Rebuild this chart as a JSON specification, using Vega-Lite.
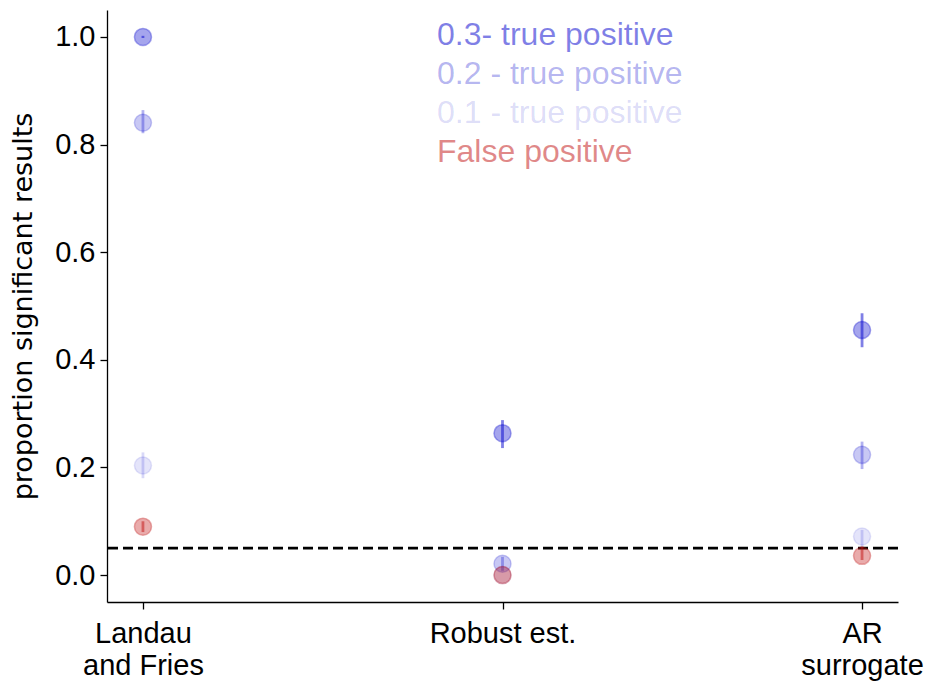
{
  "$schema": "https://vega.github.io/schema/vega-lite/v6.json",
  "width": 791,
  "height": 592,
  "autosize": {"type": "none"},
  "padding": {"left": 107, "top": 10, "right": 27, "bottom": 82},
  "background": "white",
  "config": {
    "view": {"stroke": null},
    "axis": {"grid": false, "domainColor": "black", "tickColor": "black", "labelColor": "black", "titleColor": "black", "domainWidth": 1.3, "tickWidth": 1.3, "tickSize": 7}
  },
  "data": {
    "values": [
      {"method": "Landau and Fries", "series": "0.3- true positive", "p": 1.0, "lo": 0.998, "hi": 1.002},
      {"method": "Landau and Fries", "series": "0.2 - true positive", "p": 0.8405, "lo": 0.821, "hi": 0.864},
      {"method": "Landau and Fries", "series": "0.1 - true positive", "p": 0.2035, "lo": 0.180, "hi": 0.228},
      {"method": "Landau and Fries", "series": "False positive", "p": 0.090, "lo": 0.080, "hi": 0.100},
      {"method": "Robust est.", "series": "0.3- true positive", "p": 0.2637, "lo": 0.236, "hi": 0.288},
      {"method": "Robust est.", "series": "0.2 - true positive", "p": 0.021, "lo": 0.008, "hi": 0.034},
      {"method": "Robust est.", "series": "0.1 - true positive", "p": 0.0, "lo": 0.0, "hi": 0.0},
      {"method": "Robust est.", "series": "False positive", "p": 0.0, "lo": 0.0, "hi": 0.0},
      {"method": "AR surrogate", "series": "0.3- true positive", "p": 0.4555, "lo": 0.4234, "hi": 0.4865},
      {"method": "AR surrogate", "series": "0.2 - true positive", "p": 0.2234, "lo": 0.197, "hi": 0.248},
      {"method": "AR surrogate", "series": "0.1 - true positive", "p": 0.0717, "lo": 0.053, "hi": 0.084},
      {"method": "AR surrogate", "series": "False positive", "p": 0.0358, "lo": 0.028, "hi": 0.053}
    ]
  },
  "layer": [
    {
      "data": {"values": [{"chance": 0.05}]},
      "mark": {"type": "rule", "color": "black", "strokeWidth": 2.7, "strokeDash": [10, 5]},
      "encoding": {"y": {"field": "chance", "type": "quantitative"}}
    },
    {
      "mark": {"type": "rule", "strokeWidth": 2.8},
      "encoding": {
        "x": {"field": "method", "type": "nominal", "sort": ["Landau and Fries", "Robust est.", "AR surrogate"]},
        "y": {"field": "lo", "type": "quantitative"},
        "y2": {"field": "hi"},
        "color": {"field": "series", "type": "nominal"}
      }
    },
    {
      "mark": {"type": "point", "filled": true, "shape": "circle", "size": 290, "strokeWidth": 1.5},
      "encoding": {
        "x": {
          "field": "method", "type": "nominal",
          "sort": ["Landau and Fries", "Robust est.", "AR surrogate"],
          "scale": {"type": "point", "padding": 0.1, "domain": ["Landau and Fries", "Robust est.", "AR surrogate"]},
          "axis": {
            "title": null, "labelAngle": 0, "labelAlign": "center", "labelBaseline": "top", "labelFlush": false,
            "labelFont": "Liberation Sans", "labelFontSize": 29,
            "labelPadding": 10, "labelLineHeight": 32,
            "labelExpr": "datum.value == 'Landau and Fries' ? ['Landau', 'and Fries'] : datum.value == 'AR surrogate' ? ['AR', 'surrogate'] : datum.value"
          }
        },
        "y": {
          "field": "p", "type": "quantitative",
          "scale": {"domain": [-0.05, 1.05], "nice": false, "zero": false},
          "axis": {
            "title": "proportion significant results", "titleFont": "DejaVu Sans", "titleFontSize": 27, "titleFontWeight": "normal", "titlePadding": 17,
            "values": [0, 0.2, 0.4, 0.6, 0.8, 1.0], "format": ".1f",
            "labelFont": "Liberation Sans", "labelFontSize": 29, "labelPadding": 5
          }
        },
        "color": {
          "field": "series", "type": "nominal",
          "scale": {"domain": ["0.3- true positive", "0.2 - true positive", "0.1 - true positive", "False positive"], "range": ["rgba(0,0,205,0.5)", "rgba(0,0,205,0.3)", "rgba(0,0,205,0.15)", "rgba(193,17,17,0.5)"]},
          "legend": {
            "orient": "none", "legendX": 298, "legendY": 9, "title": null,
            "labelFont": "Liberation Sans", "labelFontSize": 32, "labelLimit": 500,
            "symbolSize": 0, "symbolOpacity": 0, "symbolStrokeWidth": 0, "labelOffset": 0, "rowPadding": 7,
            "encode": {"labels": {"update": {"fill": {"scale": "color", "field": "value"}}}}
          }
        },
        "stroke": {
          "field": "series", "type": "nominal",
          "scale": {"domain": ["0.3- true positive", "0.2 - true positive", "0.1 - true positive", "False positive"], "range": ["rgba(0,0,205,0.5)", "rgba(0,0,205,0.3)", "rgba(0,0,205,0.15)", "rgba(193,17,17,0.5)"]},
          "legend": null
        }
      }
    }
  ]
}
